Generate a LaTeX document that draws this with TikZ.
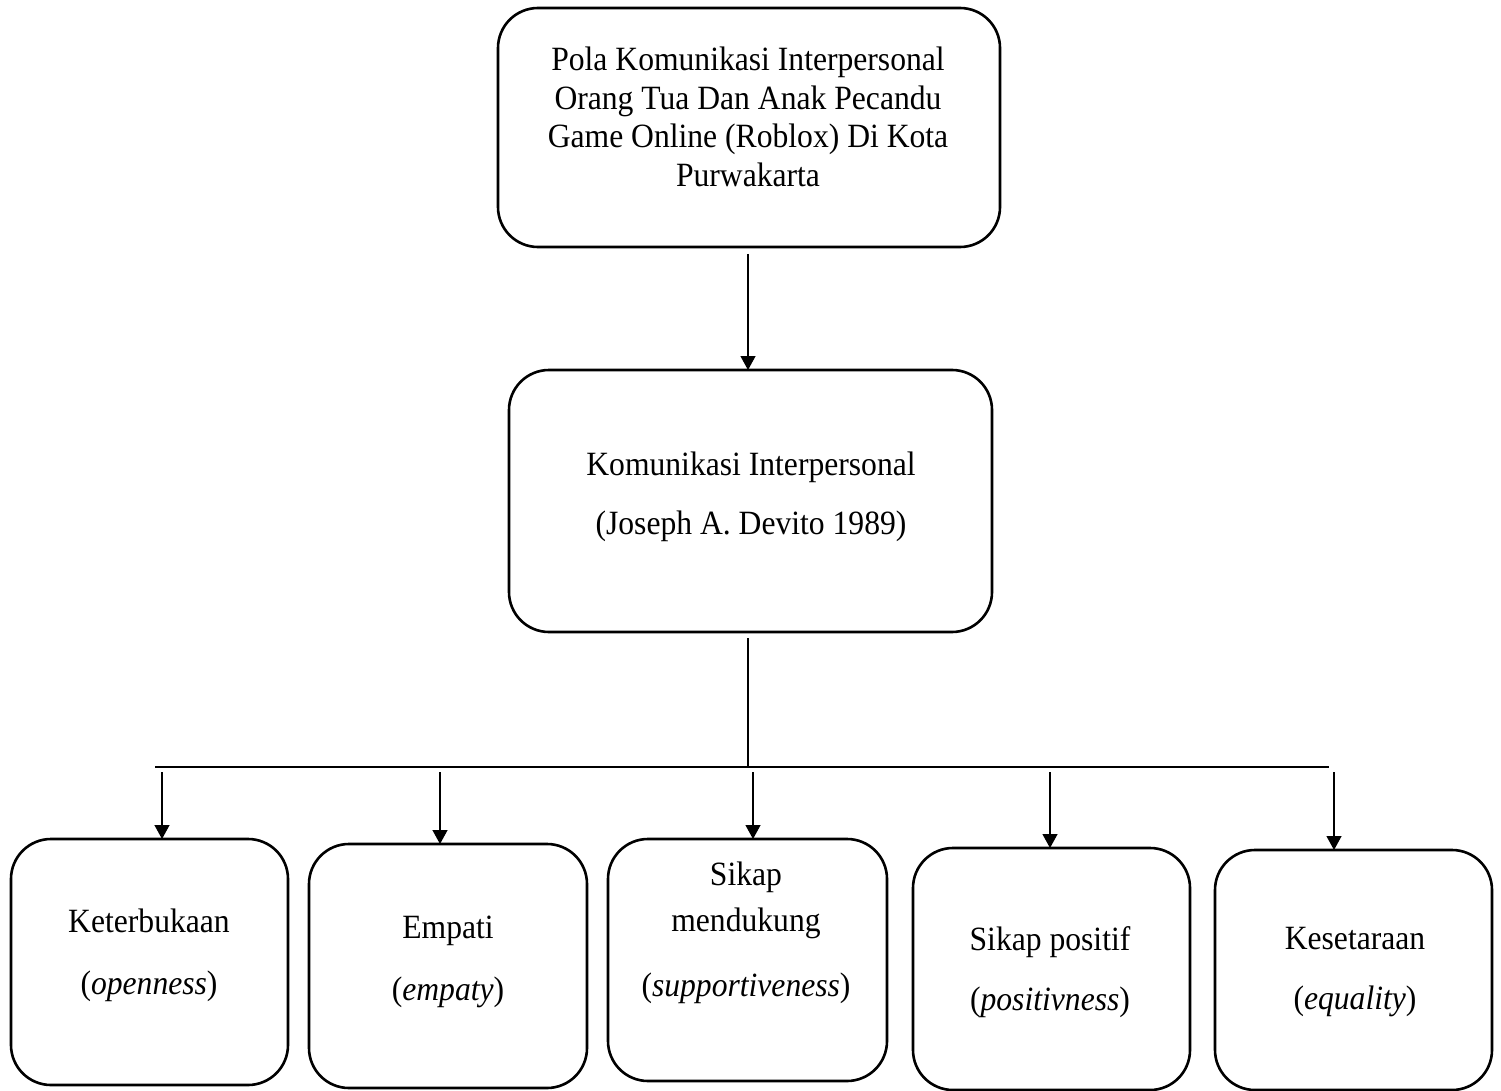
\documentclass[tikz,border=0pt]{standalone}
\usepackage{fontspec}
\setmainfont{Liberation Serif}[FakeStretch=0.93]
\usetikzlibrary{arrows.meta}
\begin{document}
\begin{tikzpicture}[x=1pt,y=-1pt,
  box/.style={draw,line width=2.6pt,rounded corners=40pt,inner sep=0pt,outer sep=0pt},
  lbl/.style={align=center,inner sep=0pt,font=\fontsize{34}{38.7}\selectfont},
  conn/.style={line width=1.3pt},
  arr/.style={conn,-{Triangle[length=14pt,width=15pt]}}]
\useasboundingbox (0,0) rectangle (1501,1091);
% boxes
\node[box,minimum width=502pt,minimum height=239pt] (top) at (749,127.5) {};
\node[box,minimum width=483pt,minimum height=262pt] (mid) at (750.5,501) {};
\node[box,minimum width=277pt,minimum height=246pt] (b1) at (149.5,962) {};
\node[box,minimum width=278pt,minimum height=244pt] (b2) at (448,966) {};
\node[box,minimum width=279pt,minimum height=242pt] (b3) at (747.5,960) {};
\node[box,minimum width=277pt,minimum height=242pt] (b4) at (1051.5,969) {};
\node[box,minimum width=277pt,minimum height=240pt] (b5) at (1353.5,970) {};
% texts
\node[lbl] (ttop) at (748,117) {Pola Komunikasi Interpersonal\\Orang Tua Dan Anak Pecandu\\Game Online (Roblox) Di Kota\\Purwakarta};
\node[lbl] (tmid) at (751,496.5) {Komunikasi Interpersonal\\[20.3pt](Joseph A. Devito 1989)};
\node[lbl] (t1) at (149,955) {Keterbukaan\\[23.3pt](\textit{openness})};
\node[lbl] (t2) at (448,962) {Empati\\[23.3pt](\textit{empaty})};
\node[lbl] (t3) at (746,933) {Sikap\\[7.3pt]mendukung\\[26.3pt](\textit{supportiveness})};
\node[lbl] (t4) at (1050,972.5) {Sikap positif\\[21.3pt](\textit{positivness})};
\node[lbl] (t5) at (1355,972.5) {Kesetaraan\\[21.3pt](\textit{equality})};
% connectors
\coordinate (a0) at (748,254);
\draw[arr] (a0) -- (a0 |- mid.north);
\coordinate (m0) at (748,638);
\coordinate (hl1) at (155,767);
\coordinate (hl2) at (1329,767);
\draw[conn] (m0) -- (m0 |- hl1);
\draw[conn] (hl1) -- (hl2);
\coordinate (s1) at (162,772);
\coordinate (s2) at (440,772);
\coordinate (s3) at (753,772);
\coordinate (s4) at (1050,772);
\coordinate (s5) at (1334,772);
\draw[arr] (s1) -- (s1 |- b1.north);
\draw[arr] (s2) -- (s2 |- b2.north);
\draw[arr] (s3) -- (s3 |- b3.north);
\draw[arr] (s4) -- (s4 |- b4.north);
\draw[arr] (s5) -- (s5 |- b5.north);
\end{tikzpicture}
\end{document}
